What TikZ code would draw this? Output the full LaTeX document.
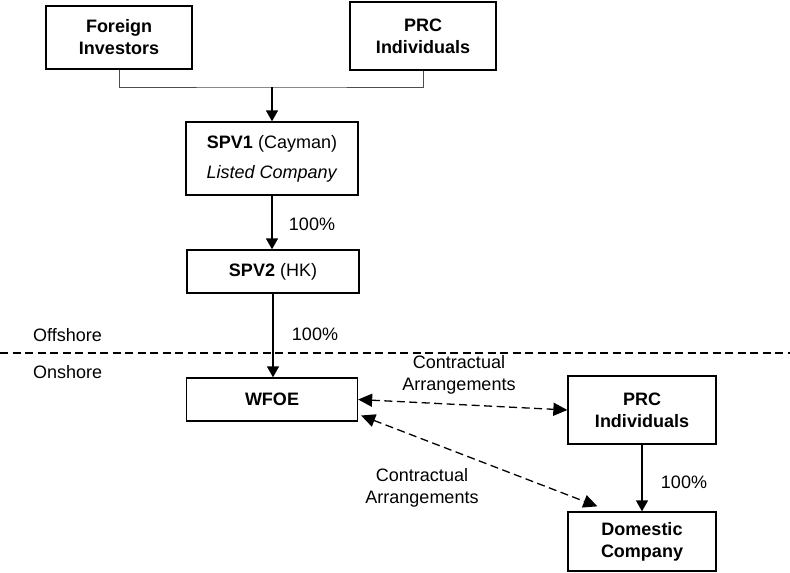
\documentclass[tikz,border=0pt]{standalone}
\usepackage{fontspec}
\setmainfont{Liberation Sans}
\usetikzlibrary{arrows.meta,calc}
\begin{document}
\begin{tikzpicture}[x=1pt,y=-1pt,
  box/.style={draw,line width=1.3pt,minimum width=#1,align=center,inner sep=0pt,font=\fontsize{18}{22}\selectfont\bfseries},
  lbl/.style={align=center,inner sep=0pt,font=\fontsize{18}{22}\selectfont},
  conn/.style={line width=1.3pt},
  tip/.style={-{Triangle[length=11pt,width=12pt]}},
  dtip/.style={{Triangle[length=14pt,width=13pt]}-{Triangle[length=14pt,width=13pt]}},
  dashline/.style={dash pattern=on 8pt off 4.5pt,line width=1.3pt}]
\useasboundingbox (0,0) rectangle (790,573);
\node[box=146pt,minimum height=63pt] (fi) at (119,37.5) {Foreign\\Investors};
\node[box=146pt,minimum height=68pt] (prc1) at (423,36) {PRC\\Individuals};
\node[box=172pt,minimum height=73pt,font=\fontsize{18}{22}\selectfont] (spv1) at (272,158.5) {\textbf{SPV1} (Cayman)\\[8pt]\textit{Listed Company}};
\node[box=172pt,minimum height=43pt,font=\fontsize{18}{22}\selectfont] (spv2) at (273,271.5) {\textbf{SPV2} (HK)};
\node[box=171pt,minimum height=43pt] (wfoe) at (272,399.5) {WFOE};
\node[box=148pt,minimum height=68pt] (prc2) at (642,410) {PRC\\Individuals};
\node[box=148pt,minimum height=59pt] (dom) at (642,541.5) {Domestic\\Company};
\coordinate (j) at (272,87);
\draw[line width=1pt,black!70] (fi.south) |- (j) -| (prc1.south);
\draw[conn,tip] (j) -- (spv1.north);
\draw[conn,tip] (spv1.south) -- (spv1.south |- spv2.north);
\draw[conn,tip] (spv2.south) -- (spv2.south |- wfoe.north);
\draw[conn,tip] (prc2.south) -- (dom.north);
\coordinate (dl) at (0,353);
\coordinate (dr) at (790,353);
\draw[dashline] (dl) -- (dr);
\draw[dashline,dtip] (wfoe.east) -- (prc2.west);
\coordinate (d1) at ($(wfoe.east)+(3,16)$);
\coordinate (d2) at ($(dom.north west)+(30,-5)$);
\draw[dashline,dtip] (d1) -- (d2);
\node[lbl] (p1) at (312,224) {100\%};
\node[lbl] (p2) at (315,334) {100\%};
\node[lbl] (p3) at (684,482) {100\%};
\node[lbl,anchor=west] (off) at (33,335) {Offshore};
\node[lbl,anchor=west] (on) at (33,372) {Onshore};
\node[lbl] (ca1) at (459,375) {Contractual\\Arrangements};
\node[lbl] (ca2) at (422,488) {Contractual\\Arrangements};
\end{tikzpicture}
\end{document}
